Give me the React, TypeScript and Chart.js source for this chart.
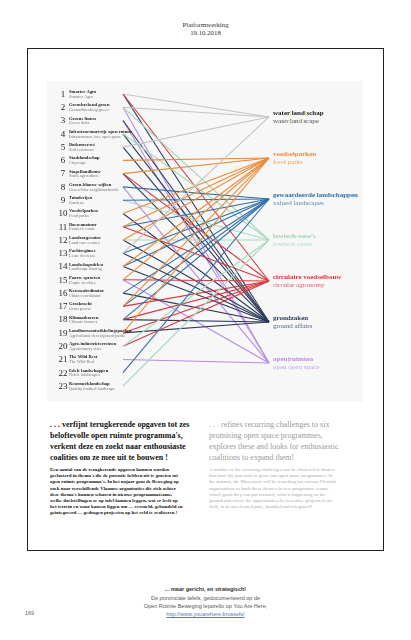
import React, { useEffect, useRef } from "react";
import { Chart, registerables } from "chart.js";

Chart.register(...registerables);

// ---------- DATA ----------
const ITEM_NUMBERS = [1, 2, 3, 4, 5, 6, 7, 8, 9, 10, 11, 12, 13, 14, 15, 16, 17, 18, 19, 20, 21, 22, 23];
const ITEM_NAMES_NL = [
  "Smarter Agro", "Grensbrekend groen", "Groene linten", "Infrastructuurvrije open ruimte",
  "Bodemverzet", "Stadslandschap", "Stapellandbouw", "Groen-blauwe wijken", "Tuinderijen",
  "Voedselparken", "Boerennatuur", "Landzorgcentra", "Pachtregimes", "Landschapsdelen",
  "Paarse sproeten", "Ketencoördinator", "Graskracht", "Klimaatboeren",
  "Landbouwontwikkelingsparken", "Agro-industrieterreinen", "The Wild Rest",
  "Edele landschappen", "Keurmerklandschap",
];
const ITEM_NAMES_EN = [
  "Smarter Agro", "Groundbreaking green", "Green links", "Infrastructure free open space",
  "Soil resistance", "Cityscape", "Stack agriculture", "Green-blue neighbourhoods", "Gardens",
  "Food parks", "Farmers' estate", "Land care centres", "Lease decrease", "Landscape sharing",
  "Purple freckles", "Chain coordinator", "Grass power", "Climate farmers",
  "Agricultural development parks", "Agroindustry sites", "The Wild Rest",
  "Noble landscapes", "Quality marked landscape",
];

const THEME_NL = ["water|land|schap", "voedselparken", "gewaardeerde landschappen", "lowtech-oase's", "circulaire voedselbouw", "grondzaken", "open|ruimten"];
const THEME_EN = ["water|land|scape", "food parks", "valued landscapes", "lowtech oases", "circular agronomy", "ground affairs", "open open space"];
const THEME_COLORS = ["#c4c4c4", "#ee8a3a", "#2f6fa8", "#a6dbbd", "#d9343d", "#2b3a57", "#b98ae6"];
const THEME_LABEL_COLORS = ["#1a1a1a", "#ee8a3a", "#2f6fa8", "#9fd4b6", "#d9343d", "#2b3a57", "#b98ae6"];

// items linked to each theme
const LINKS_WATER = [1, 2, 5, 13];
const LINKS_VOEDSEL = [6, 7, 10, 11, 12, 14, 15, 17, 19];
const LINKS_GEWAARDEERD = [8, 9, 11, 13, 14, 16, 17, 18, 22];
const LINKS_LOWTECH = [2, 4, 9, 12, 20, 23];
const LINKS_CIRCULAIR = [1, 7, 11, 15, 17, 18, 19, 20];
const LINKS_GROND = [1, 3, 4, 5, 7, 10, 12, 13, 14, 16, 18, 19];
const LINKS_OPEN = [2, 3, 8, 15, 21];
const THEME_LINKS = [LINKS_WATER, LINKS_VOEDSEL, LINKS_GEWAARDEERD, LINKS_LOWTECH, LINKS_CIRCULAIR, LINKS_GROND, LINKS_OPEN];

// layout: theme nodes spread around the centre of the item column
const THEME_STEP = 3.09;
const themePos = (j: number) => (ITEM_NUMBERS[0] + ITEM_NUMBERS[ITEM_NUMBERS.length - 1]) / 2 + (j - (THEME_NL.length - 1) / 2) * THEME_STEP;

const SERIF = "'Liberation Serif', 'DejaVu Serif', serif";
const SANS = "'Liberation Sans', 'DejaVu Sans', sans-serif";

const labelPlugin = {
  id: "labels",
  afterDatasetsDraw(chart: any) {
    const ctx = chart.ctx;
    const xs = chart.scales.x;
    const ys = chart.scales.y;
    const xl = xs.getPixelForValue(0);
    const xr = xs.getPixelForValue(1);
    ctx.save();
    ctx.textBaseline = "middle";
    ITEM_NUMBERS.forEach((n, i) => {
      const y = ys.getPixelForValue(n);
      ctx.fillStyle = "#1c1c1c";
      ctx.textAlign = "center";
      ctx.font = `9px ${SERIF}`;
      ctx.fillText(String(n), xl - 60, y + 0.5);
      ctx.textAlign = "left";
      ctx.font = `bold 4.6px ${SERIF}`;
      ctx.fillText(ITEM_NAMES_NL[i], xl - 54, y - 2.2);
      ctx.fillStyle = "#777";
      ctx.font = `4.4px ${SERIF}`;
      ctx.fillText(ITEM_NAMES_EN[i], xl - 54, y + 2.6);
    });
    THEME_NL.forEach((t, j) => {
      const y = ys.getPixelForValue(themePos(j));
      const drawParts = (text: string, yy: number, color: string, sepColor: string, font: string) => {
        ctx.font = font;
        let x = xr + 4;
        const parts = text.split("|");
        parts.forEach((p, k) => {
          ctx.fillStyle = color;
          ctx.fillText(p, x, yy);
          x += ctx.measureText(p).width;
          if (k < parts.length - 1) {
            ctx.fillStyle = sepColor;
            ctx.fillText("|", x, yy);
            x += ctx.measureText("|").width;
          }
        });
      };
      const col = THEME_LABEL_COLORS[j];
      const sep = j === 0 ? "#f2c200" : col;
      ctx.globalAlpha = 1;
      drawParts(t, y - 4, col, sep, `bold 7px ${SERIF}`);
      ctx.globalAlpha = 0.8;
      drawParts(THEME_EN[j], y + 4.5, col, sep, `7px ${SERIF}`);
      ctx.globalAlpha = 1;
    });
    ctx.restore();
  },
};

function LinkChart() {
  const ref = useRef<HTMLCanvasElement>(null);
  useEffect(() => {
    if (!ref.current) return;
    const datasets: any[] = [];
    THEME_LINKS.forEach((items, j) => {
      items.forEach((item) => {
        datasets.push({
          label: `${ITEM_NAMES_NL[item - 1]} → ${THEME_NL[j]}`,
          data: [
            { x: 0, y: item },
            { x: 1, y: themePos(j) },
          ],
          borderColor: THEME_COLORS[j],
          borderWidth: 1.1,
          pointRadius: 0,
          fill: false,
          clip: false,
        });
      });
    });
    const chart = new Chart(ref.current, {
      type: "line",
      data: { datasets },
      options: {
        animation: false,
        responsive: false,
        maintainAspectRatio: false,
        layout: { padding: { left: 76, right: 94, top: 13, bottom: 16 } },
        plugins: { legend: { display: false }, tooltip: { enabled: false } },
        scales: {
          x: { type: "linear", min: 0, max: 1, display: false },
          y: { type: "linear", min: 1, max: 23, reverse: true, display: false },
        },
      },
      plugins: [labelPlugin],
    });
    return () => chart.destroy();
  }, []);
  return <canvas ref={ref} width={316} height={321} style={{ width: 316, height: 321, display: "block" }} />;
}

const HEAD_NL = [
  ". . . verfijnt terugkerende opgaven tot zes",
  "beloftevolle open ruimte programma's,",
  "verkent deze en zoekt naar enthousiaste",
  "coalities om ze mee uit te bouwen !",
];
const BODY_NL = [
  "Een aantal van de terugkerende opgaven kunnen worden",
  "geclusterd in thema's die de potentie hebben uit te groeien tot",
  "open ruimte programma's. In het najaar gaat de Beweging op",
  "zoek naar verschillende Vlaamse organisaties die zich achter",
  "deze thema's kunnen scharen in nieuwe programmateams,",
  "welke doelstellingen ze op tafel kunnen leggen, wat er leeft op",
  "het terrein en waar kansen liggen om — versneld, gebundeld en",
  "geïntegreerd — gedragen projecten op het veld te realiseren !",
];
const HEAD_EN = [
  ". . . refines recurring challenges to six",
  "promising open space programmes,",
  "explores these and looks for enthusiastic",
  "coalitions to expand them!",
];
const BODY_EN = [
  "A number of the recurring challenges can be clustered in themes",
  "that have the potential to grow into open space programmes. In",
  "the autumn, the Movement will be searching for various Flemish",
  "organisations to back these themes in new programme teams,",
  "which goals they can put forward, what is happening on the",
  "ground and where the opportunities lie to realize projects in the",
  "field, at an accelerated pace, bundled and integrated!",
];

function Lines({ lines, size, lh, color, weight }: any) {
  return (
    <div>
      {lines.map((l: string, i: number) => (
        <div key={i} style={{ fontSize: size, lineHeight: `${lh}px`, height: lh, whiteSpace: "nowrap", color, fontWeight: weight }}>{l}</div>
      ))}
    </div>
  );
}

export default function App() {
  return (
    <div style={{ position: "absolute", left: 0, top: 0, width: 411, height: 640, background: "#fff", fontFamily: SERIF, overflow: "hidden" }}>
      <div style={{ position: "absolute", left: 0, width: 411, top: 21, textAlign: "center", fontSize: 6.8, lineHeight: "8px", color: "#333" }}>
        <div>Platformwerking</div>
        <div>19.10.2018</div>
      </div>
      <div style={{ position: "absolute", left: 27, top: 48, width: 355, height: 501, border: "1.2px solid #222" }} />
      <div style={{ position: "absolute", left: 47, top: 81, width: 316, height: 321, background: "#f7f7f7" }}>
        <LinkChart />
      </div>
      <div style={{ position: "absolute", left: 50, top: 419 }}>
        <Lines lines={HEAD_NL} size={8} lh={11} color="#111" weight="bold" />
        <div style={{ height: 4 }} />
        <Lines lines={BODY_NL} size={4.9} lh={6.2} color="#111" weight="bold" />
      </div>
      <div style={{ position: "absolute", left: 209, top: 419 }}>
        <Lines lines={HEAD_EN} size={8} lh={11} color="#9a9a9a" weight="normal" />
        <div style={{ height: 4 }} />
        <Lines lines={BODY_EN} size={4.9} lh={6.2} color="#a8a8a8" weight="normal" />
      </div>
      <div style={{ position: "absolute", left: 0, width: 411, top: 585, textAlign: "center", fontFamily: SANS, fontSize: 5.5, lineHeight: "8px", color: "#555" }}>
        <div style={{ fontWeight: "bold", color: "#333", marginBottom: 1 }}>... maar gericht, en strategisch!</div>
        <div>De provinciale tafels, gedocumenteerd op de</div>
        <div>Open Ruimte Beweging leporello op You Are Here,</div>
        <div><a href="http://www.youarehere.brussels/" style={{ color: "#5b79b8" }}>http://www.youarehere.brussels/</a></div>
      </div>
      <div style={{ position: "absolute", left: 25, top: 610, fontFamily: SANS, fontSize: 5.5, color: "#666" }}>169</div>
    </div>
  );
}
